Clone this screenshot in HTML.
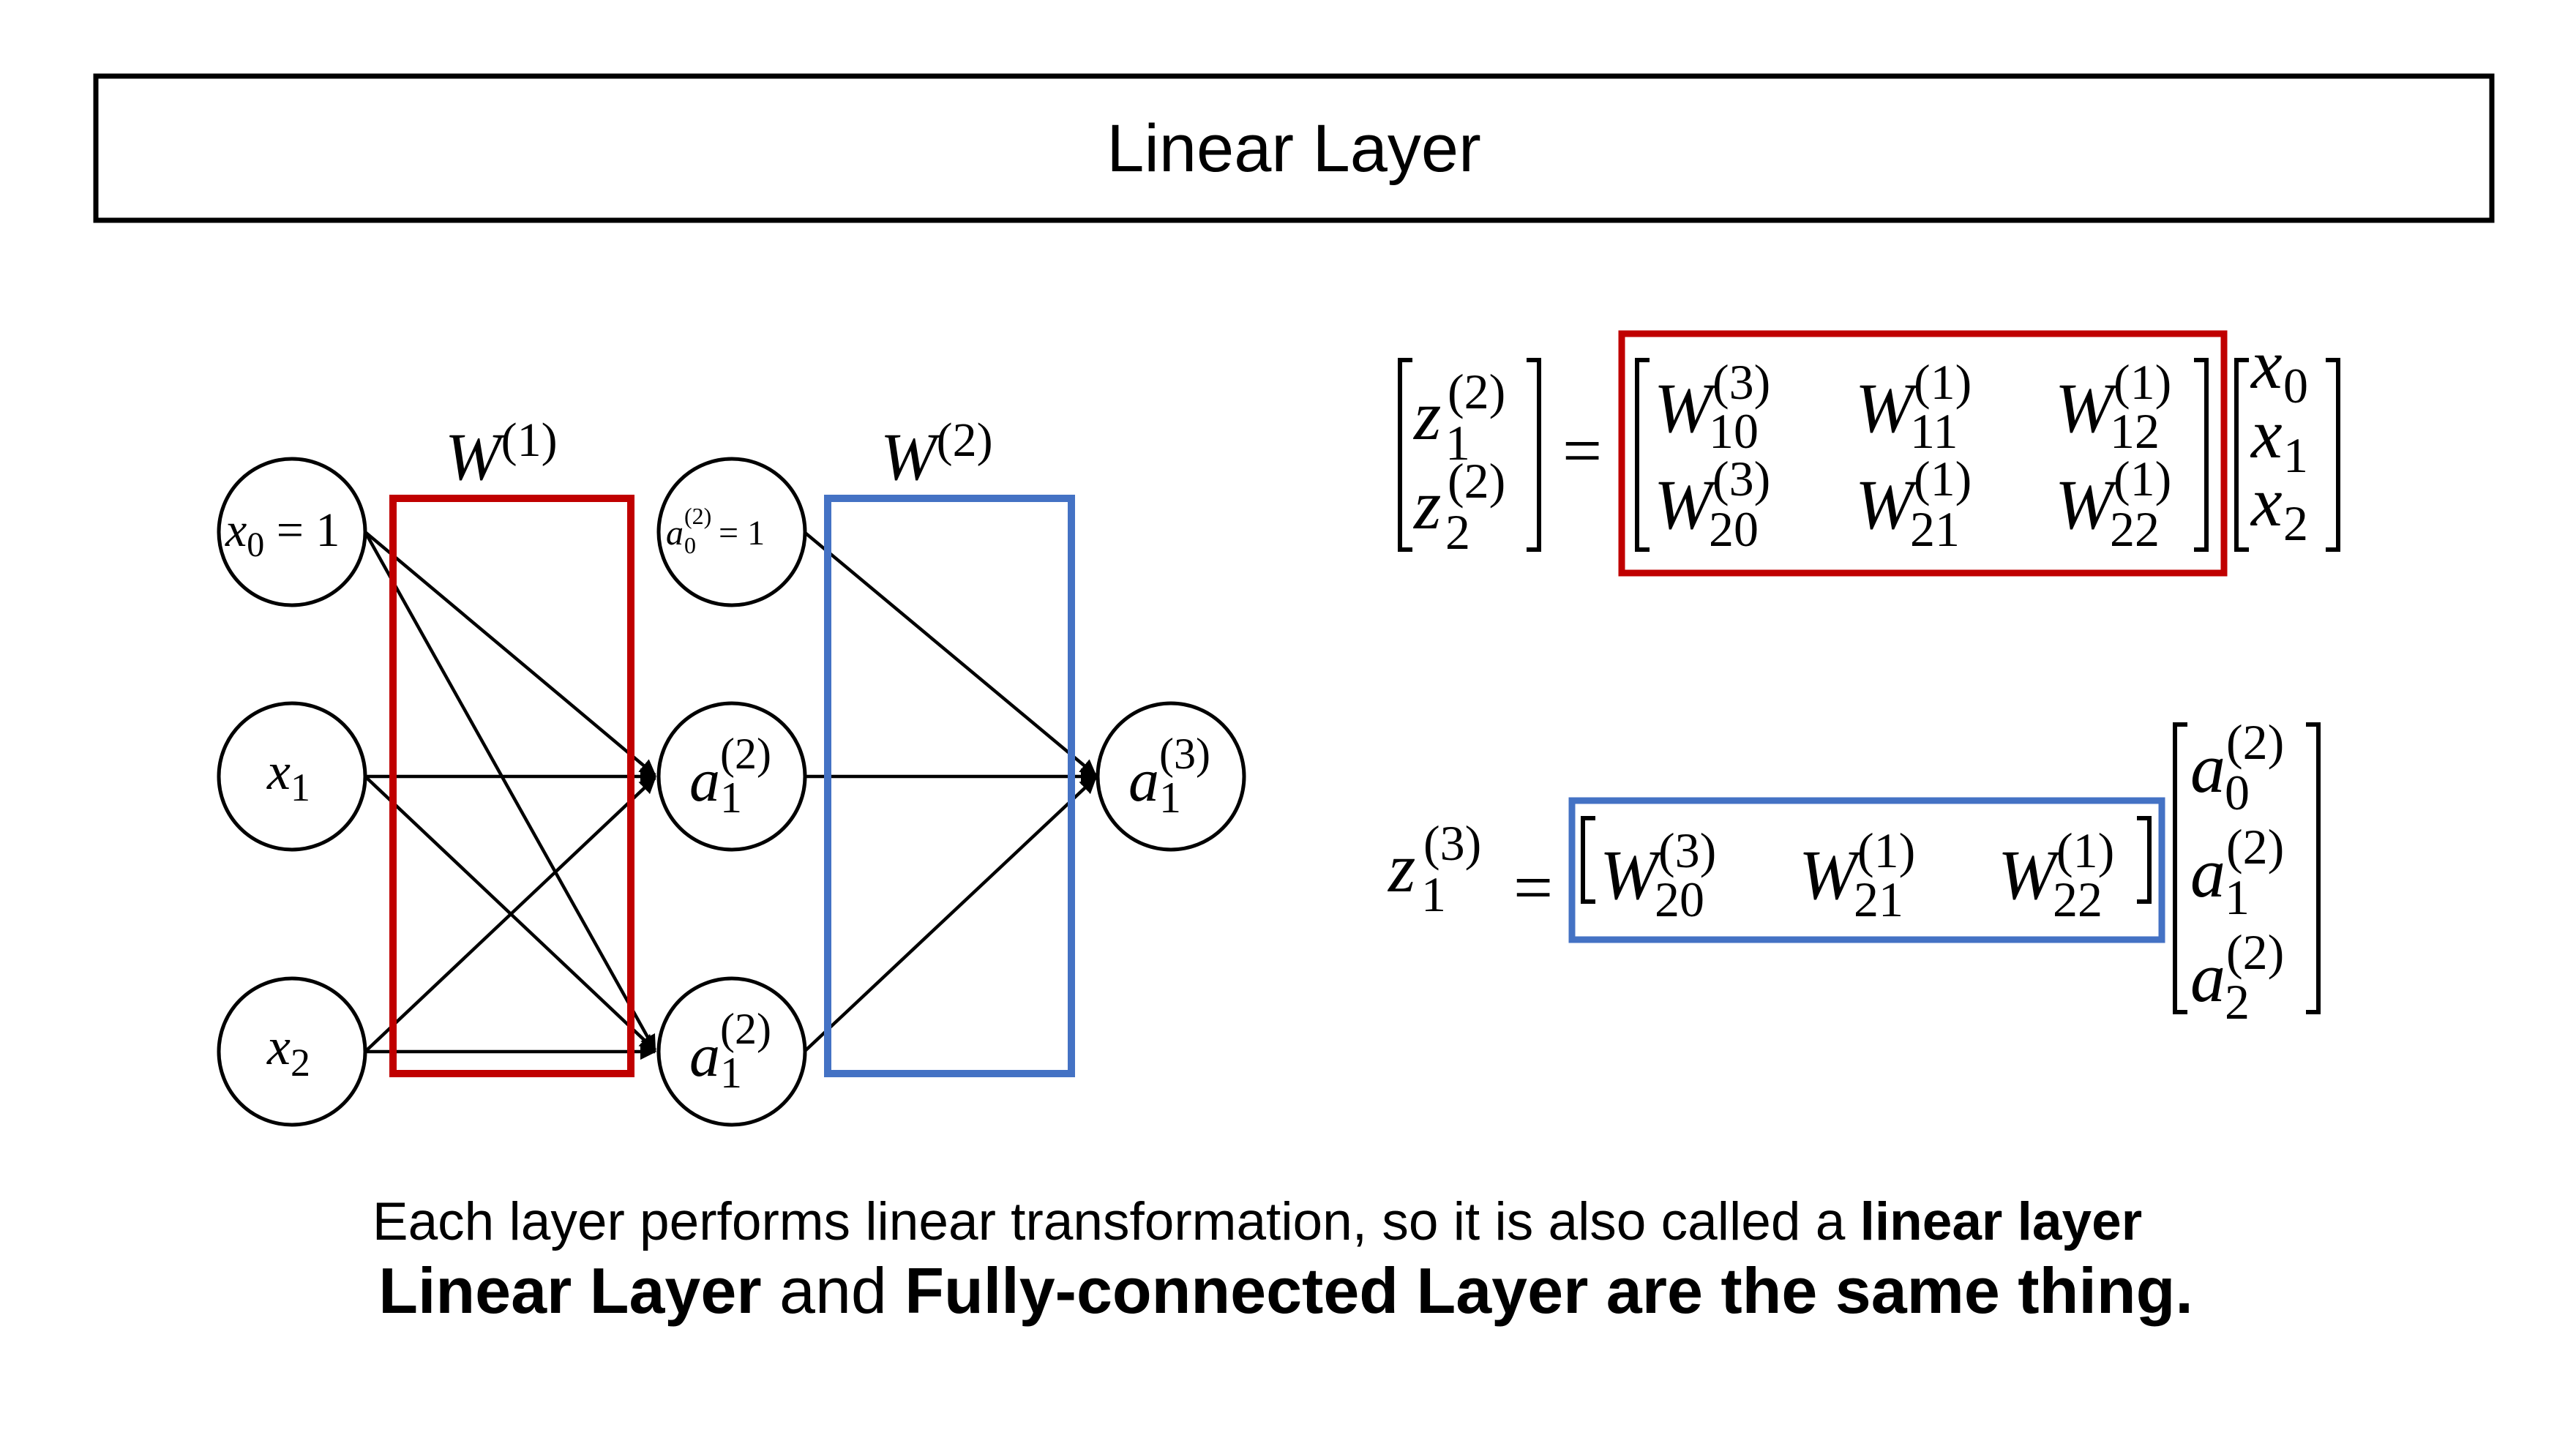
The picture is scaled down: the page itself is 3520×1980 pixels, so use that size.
<!DOCTYPE html>
<html><head><meta charset="utf-8"><style>
html,body{margin:0;padding:0;background:#fff;}
svg{display:block}
.m{font-family:"Liberation Serif",serif;font-style:italic;fill:#000}
.n{font-family:"Liberation Serif",serif;font-style:normal}
</style></head><body>
<svg width="3520" height="1980" viewBox="0 0 3520 1980" xmlns="http://www.w3.org/2000/svg">
<defs><marker id="ar" markerWidth="5" markerHeight="5" refX="4.5" refY="2.5" orient="auto" markerUnits="strokeWidth"><path d="M0,0 L5,2.5 L0,5 Z" fill="#000"/></marker></defs>
<rect x="131" y="104" width="3274" height="197" fill="none" stroke="#000" stroke-width="7"/>
<text x="1768" y="234" font-family="Liberation Sans,sans-serif" font-size="92" text-anchor="middle">Linear Layer</text>

<g stroke="#000" stroke-width="4.5" fill="none" marker-end="url(#ar)">
<line x1="499" y1="727" x2="895" y2="1059"/>
<line x1="499" y1="727" x2="895" y2="1435"/>
<line x1="499" y1="1061" x2="895" y2="1061"/>
<line x1="499" y1="1061" x2="895" y2="1435"/>
<line x1="499" y1="1437" x2="895" y2="1063"/>
<line x1="499" y1="1437" x2="895" y2="1437"/>
<line x1="1099" y1="727" x2="1497" y2="1059"/>
<line x1="1099" y1="1061" x2="1497" y2="1061"/>
<line x1="1099" y1="1437" x2="1497" y2="1063"/>
</g>
<rect x="537" y="681" width="325" height="786" fill="none" stroke="#c00000" stroke-width="10"/>
<rect x="1131" y="681" width="333" height="786" fill="none" stroke="#4472c4" stroke-width="10"/>
<g fill="none" stroke="#000" stroke-width="5">
<ellipse cx="399" cy="727" rx="100" ry="100"/>
<ellipse cx="399" cy="1061" rx="100" ry="100"/>
<ellipse cx="399" cy="1437" rx="100" ry="100"/>
<ellipse cx="1000" cy="727" rx="100" ry="100"/>
<ellipse cx="1000" cy="1061" rx="100" ry="100"/>
<ellipse cx="1000" cy="1437" rx="100" ry="100"/>
<ellipse cx="1600" cy="1061" rx="100" ry="100"/>
</g>
<text class="m" x="608" y="655" font-size="92">W<tspan class="n" font-size="66" dy="-32">(1)</tspan></text>
<text class="m" x="1203" y="655" font-size="92">W<tspan class="n" font-size="66" dy="-32">(2)</tspan></text>
<text class="m" x="308" y="746" font-size="66">x<tspan class="n" font-size="48" dy="14">0</tspan><tspan class="n" dy="-14"> = 1</tspan></text>
<text class="m" x="365" y="1078" font-size="72">x<tspan class="n" font-size="54" dy="16">1</tspan></text>
<text class="m" x="365" y="1454" font-size="72">x<tspan class="n" font-size="54" dy="16">2</tspan></text>
<text class="m" x="910" y="744" font-size="48">a</text><text class="n" x="935" y="716" font-size="32">(2)</text><text class="n" x="935" y="756" font-size="32">0</text><text class="n" x="982" y="744" font-size="48">= 1</text>
<g class="m" font-size="84">
<text x="942" y="1094">a</text><text class="n" x="984" y="1050" font-size="60">(2)</text><text class="n" x="984" y="1110" font-size="60">1</text>
<text x="942" y="1470">a</text><text class="n" x="984" y="1426" font-size="60">(2)</text><text class="n" x="984" y="1486" font-size="60">1</text>
<text x="1542" y="1094">a</text><text class="n" x="1584" y="1050" font-size="60">(3)</text><text class="n" x="1584" y="1110" font-size="60">1</text>
</g>

<g fill="none" stroke="#000" stroke-width="6">
<path d="M1930,492 H1913 V751 H1930"/><path d="M2086,492 H2103 V751 H2086"/>
<path d="M2254,492 H2237 V751 H2254"/><path d="M2998,492 H3015 V751 H2998"/>
<path d="M3073,492 H3056 V751 H3073"/><path d="M3178,492 H3195 V751 H3178"/>
<path d="M2180,1118 H2163 V1232 H2180"/><path d="M2920,1118 H2937 V1232 H2920"/>
<path d="M2989,990 H2972 V1383 H2989"/><path d="M3151,990 H3168 V1383 H3151"/>
</g>
<rect x="2216" y="456" width="823" height="327" fill="none" stroke="#c00000" stroke-width="9"/>
<rect x="2148" y="1094" width="806" height="190" fill="none" stroke="#4472c4" stroke-width="9"/>
<g class="m" font-size="96">
<text x="1932" y="600">z</text><text class="n" x="1978" y="558" font-size="68">(2)</text><text class="n" x="1975" y="628" font-size="68">1</text>
<text x="1932" y="722">z</text><text class="n" x="1978" y="680" font-size="68">(2)</text><text class="n" x="1975" y="750" font-size="68">2</text>
<text class="n" x="2135" y="648">=</text>
<text x="2260" y="590">W</text><text class="n" x="2340" y="545" font-size="68">(3)</text><text class="n" x="2335" y="612" font-size="68">10</text>
<text x="2535" y="590">W</text><text class="n" x="2615" y="545" font-size="68">(1)</text><text class="n" x="2610" y="612" font-size="68">11</text>
<text x="2808" y="590">W</text><text class="n" x="2888" y="545" font-size="68">(1)</text><text class="n" x="2883" y="612" font-size="68">12</text>
<text x="2260" y="722">W</text><text class="n" x="2340" y="677" font-size="68">(3)</text><text class="n" x="2335" y="746" font-size="68">20</text>
<text x="2535" y="722">W</text><text class="n" x="2615" y="677" font-size="68">(1)</text><text class="n" x="2610" y="746" font-size="68">21</text>
<text x="2808" y="722">W</text><text class="n" x="2888" y="677" font-size="68">(1)</text><text class="n" x="2883" y="746" font-size="68">22</text>
<text x="3076" y="530">x</text><text class="n" x="3120" y="550" font-size="68">0</text>
<text x="3076" y="625">x</text><text class="n" x="3120" y="645" font-size="68">1</text>
<text x="3076" y="718">x</text><text class="n" x="3120" y="738" font-size="68">2</text>
<text x="1897" y="1218">z</text><text class="n" x="1945" y="1175" font-size="68">(3)</text><text class="n" x="1942" y="1245" font-size="68">1</text>
<text class="n" x="2068" y="1245">=</text>
<text x="2186" y="1228">W</text><text class="n" x="2266" y="1185" font-size="68">(3)</text><text class="n" x="2261" y="1252" font-size="68">20</text>
<text x="2458" y="1228">W</text><text class="n" x="2538" y="1185" font-size="68">(1)</text><text class="n" x="2533" y="1252" font-size="68">21</text>
<text x="2730" y="1228">W</text><text class="n" x="2810" y="1185" font-size="68">(1)</text><text class="n" x="2805" y="1252" font-size="68">22</text>
<text x="2993" y="1082">a</text><text class="n" x="3042" y="1037" font-size="68">(2)</text><text class="n" x="3040" y="1106" font-size="68">0</text>
<text x="2993" y="1225">a</text><text class="n" x="3042" y="1180" font-size="68">(2)</text><text class="n" x="3040" y="1249" font-size="68">1</text>
<text x="2993" y="1368">a</text><text class="n" x="3042" y="1324" font-size="68">(2)</text><text class="n" x="3040" y="1392" font-size="68">2</text>
</g>

<text x="1718" y="1694" font-family="Liberation Sans,sans-serif" font-size="73" text-anchor="middle">Each layer performs linear transformation, so it is also called a <tspan font-weight="bold">linear layer</tspan></text>
<text x="1757" y="1794" font-family="Liberation Sans,sans-serif" font-size="88" text-anchor="middle"><tspan font-weight="bold">Linear Layer</tspan> and <tspan font-weight="bold">Fully-connected Layer are the same thing.</tspan></text>
</svg>
</body></html>
